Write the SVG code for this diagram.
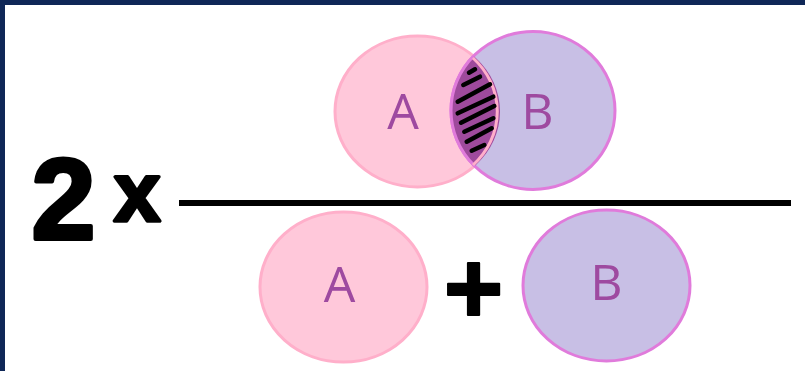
<svg xmlns="http://www.w3.org/2000/svg" width="805" height="371" viewBox="0 0 805 371">
<style>
.a{fill:#ffc8da;stroke:#ffafca;stroke-width:3}
.b{fill:#c8bfe5;stroke:#e07bdb;stroke-width:3}
.lbl{font-family:"Open Sans","Liberation Sans",sans-serif;font-size:50px;fill:#9e4aa0;text-anchor:middle}
.big{font-family:"Liberation Sans","Open Sans",sans-serif;font-weight:bold;fill:#000;stroke:#000;stroke-linejoin:round}
.h{stroke:#000;stroke-width:4.5;stroke-linecap:round}
</style>
<defs>
<clipPath id="clipA"><ellipse cx="417.5" cy="111.5" rx="82.5" ry="75.5"/></clipPath>
</defs>
<rect x="0" y="0" width="805" height="371" fill="#fff"/>
<rect x="0" y="0" width="805" height="5" fill="#0f2757"/>
<rect x="0" y="0" width="5" height="371" fill="#0f2757"/>
<g id="numerator">
<ellipse class="a" cx="417.5" cy="111.5" rx="82.5" ry="75.5"/>
<ellipse class="b" cx="533" cy="110.5" rx="82" ry="79"/>
<g clip-path="url(#clipA)">
<ellipse cx="533" cy="110.5" rx="82" ry="79" fill="#9e4a9c" stroke="#e07bdb" stroke-width="3"/>
</g>
<path d="M473 58 A82.5 75.5 0 0 1 473 165" fill="none" stroke="#ffafca" stroke-width="3" clip-path="url(#clipA)"/>
<g class="h">
<line x1="469" y1="72.7" x2="475" y2="69.3"/>
<line x1="463.3" y1="85" x2="480" y2="76.7"/>
<line x1="457.7" y1="101.7" x2="490" y2="84.3"/>
<line x1="457.7" y1="113.3" x2="493.3" y2="96.7"/>
<line x1="461" y1="122.7" x2="494.3" y2="106"/>
<line x1="464.3" y1="131.7" x2="493.3" y2="118.3"/>
<line x1="466.7" y1="141.7" x2="491.7" y2="128.3"/>
<line x1="471.7" y1="150.7" x2="484.3" y2="145"/>
</g>
<text class="lbl" x="403" y="128.5">A</text>
<text class="lbl" x="537.5" y="128.5">B</text>
</g>
<g id="fraction-bar"><rect x="179" y="200" width="612" height="6" fill="#000"/></g>
<g id="factor">
<text class="big" x="63.5" y="238.5" font-size="115" stroke-width="4" text-anchor="middle">2</text>
<text class="big" x="137" y="220.5" font-size="84" stroke-width="3.5" text-anchor="middle">x</text>
</g>
<g id="denominator-A">
<ellipse class="a" cx="343.5" cy="287" rx="83.5" ry="75"/>
<text class="lbl" x="339.5" y="302">A</text>
</g>
<g id="plus"><text class="big" x="473.5" y="323" font-size="102" stroke-width="2" text-anchor="middle">+</text></g>
<g id="denominator-B">
<ellipse class="b" cx="606.5" cy="285.5" rx="83.5" ry="75.5"/>
<text class="lbl" x="606.5" y="300">B</text>
</g>
</svg>
